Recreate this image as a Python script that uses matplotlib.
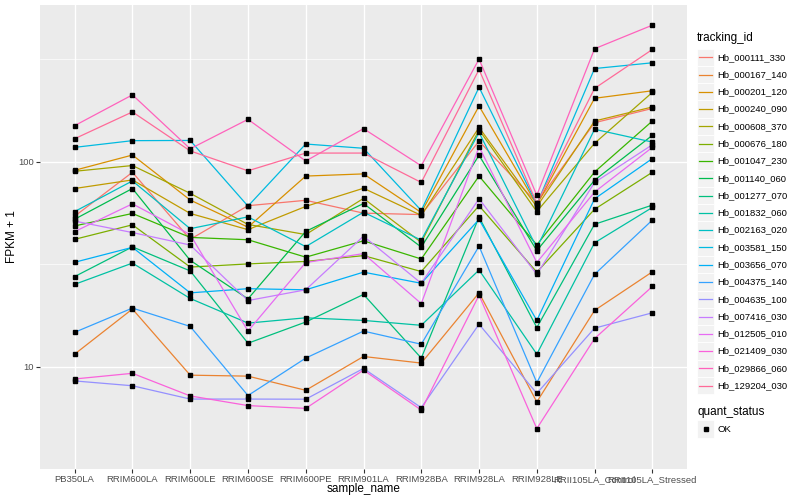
import numpy as np
import matplotlib
matplotlib.use("Agg")
import matplotlib.pyplot as plt
from matplotlib.lines import Line2D
from matplotlib.patches import Rectangle

plt.rcParams['font.family'] = ['Liberation Sans', 'DejaVu Sans']

samples = ['PB350LA', 'RRIM600LA', 'RRIM600LE', 'RRIM600SE', 'RRIM600PE', 'RRIM901LA',
           'RRIM928BA', 'RRIM928LA', 'RRIM928LE', 'RRII105LA_Control', 'RRII105LA_Stressed']

tracking_ids = ['Hb_000111_330', 'Hb_000167_140', 'Hb_000201_120', 'Hb_000240_090', 'Hb_000608_370',
                'Hb_000676_180', 'Hb_001047_230', 'Hb_001140_060', 'Hb_001277_070', 'Hb_001832_060',
                'Hb_002163_020', 'Hb_003581_150', 'Hb_003656_070', 'Hb_004375_140', 'Hb_004635_100',
                'Hb_007416_030', 'Hb_012505_010', 'Hb_021409_030', 'Hb_029866_060', 'Hb_129204_030']

# FPKM + 1, one list per gene, in sample order
hb_000111_330 = [54.2, 88.8, 41.8, 61.0, 64.8, 56.1, 55.2, 126, 63.0, 155, 182]
hb_000167_140 = [11.5, 19.1, 9.08, 8.98, 7.66, 11.2, 10.4, 22.9, 6.72, 18.8, 29.0]
hb_000201_120 = [90.8, 107.8, 65.0, 47.9, 85.1, 87.2, 56.5, 187, 61.6, 204, 222]
hb_000240_090 = [74.0, 81.5, 55.9, 46.6, 60.5, 74.2, 54.7, 147, 60.3, 158, 185]
hb_000608_370 = [89.8, 95.8, 70.1, 49.4, 44.1, 66.2, 40.4, 143, 57.1, 123, 218]
hb_000676_180 = [41.8, 49.2, 30.6, 31.7, 32.6, 34.8, 29.1, 61.0, 28.9, 58.6, 88.8]
hb_001047_230 = [48.6, 55.9, 42.7, 41.6, 34.2, 41.1, 33.5, 85.1, 39.3, 89.1, 158]
hb_001140_060 = [52.4, 74.0, 33.0, 21.4, 45.7, 62.5, 38.3, 107.5, 36.8, 81.2, 134.5]
hb_001277_070 = [27.5, 38.4, 29.3, 13.0, 16.5, 22.5, 11.0, 53.7, 15.5, 49.5, 61.4]
hb_001832_060 = [25.2, 32.0, 21.5, 16.3, 17.3, 16.8, 15.9, 29.6, 11.5, 40.2, 59.8]
hb_002163_020 = [57.1, 80.6, 47.1, 53.8, 38.5, 56.7, 41.4, 139, 38.0, 144, 124.7]
hb_003581_150 = [117.5, 126.7, 127, 60.7, 122, 116.3, 57.8, 231, 62.0, 285, 304]
hb_003656_070 = [32.3, 38.2, 22.9, 24.0, 23.7, 28.9, 25.5, 52.3, 16.8, 65.9, 103.6]
hb_004375_140 = [14.7, 19.3, 15.7, 7.22, 11.0, 14.9, 12.85, 38.7, 8.35, 28.2, 51.9]
hb_004635_100 = [8.51, 8.06, 6.94, 6.94, 6.93, 9.79, 6.30, 16.1, 7.40, 15.4, 18.3]
hb_007416_030 = [51.3, 45.1, 39.2, 21.0, 23.7, 43.3, 25.5, 65.9, 28.2, 79.2, 121]
hb_012505_010 = [45.6, 62.3, 44.1, 14.9, 32.2, 35.6, 20.3, 118.4, 32.2, 71.1, 117.5]
hb_021409_030 = [8.70, 9.27, 7.19, 6.45, 6.25, 9.61, 6.13, 22.3, 4.98, 13.7, 24.6]
hb_029866_060 = [150, 212, 115.6, 161, 100.8, 145, 95.5, 317, 68.6, 356, 464]
hb_129204_030 = [129.5, 175, 112.9, 90.3, 110.2, 110.2, 79.2, 282, 62.6, 228, 353]

series = [hb_000111_330, hb_000167_140, hb_000201_120, hb_000240_090, hb_000608_370,
          hb_000676_180, hb_001047_230, hb_001140_060, hb_001277_070, hb_001832_060,
          hb_002163_020, hb_003581_150, hb_003656_070, hb_004375_140, hb_004635_100,
          hb_007416_030, hb_012505_010, hb_021409_030, hb_029866_060, hb_129204_030]


def hcl_hex(h, c=100.0, l=65.0):
    # polar LUV -> sRGB, same as R's hcl()
    hr = np.deg2rad(h)
    u, v = c * np.cos(hr), c * np.sin(hr)
    xn, yn, zn = 95.047, 100.0, 108.883
    un = 4 * xn / (xn + 15 * yn + 3 * zn)
    vn = 9 * yn / (xn + 15 * yn + 3 * zn)
    Y = yn * ((l + 16) / 116) ** 3
    up = u / (13 * l) + un
    vp = v / (13 * l) + vn
    X = Y * 9 * up / (4 * vp)
    Z = Y * (12 - 3 * up - 20 * vp) / (4 * vp)
    xyz = np.array([X, Y, Z]) / 100
    m = np.array([[3.240479, -1.537150, -0.498535],
                  [-0.969256, 1.875992, 0.041556],
                  [0.055648, -0.204043, 1.057311]])
    rgb = m @ xyz
    rgb = np.where(rgb > 0.00304, 1.055 * np.power(np.clip(rgb, 0, None), 1 / 2.4) - 0.055, 12.92 * rgb)
    return tuple(np.clip(rgb, 0, 1))


n = len(tracking_ids)
colors = [hcl_hex(15 + 360 * i / n) for i in range(n)]

fig = plt.figure(figsize=(8, 5), dpi=100)
ax = fig.add_axes([40 / 800, 31 / 500, 647 / 800, 464 / 500])
ax.set_facecolor('#EBEBEB')
for s in ax.spines.values():
    s.set_visible(False)

x = np.arange(len(samples))
for vals, col in zip(series, colors):
    ax.plot(x, vals, color=col, lw=0.9, zorder=2)
for vals in series:
    ax.plot(x, vals, 's', color='black', ms=2.4, zorder=3)

ax.set_yscale('log')
allv = np.log10(np.concatenate([np.array(v) for v in series]))
lo, hi = allv.min(), allv.max()
pad = (hi - lo) * 0.05
ax.set_ylim(10 ** (lo - pad), 10 ** (hi + pad))
ax.set_xlim(-0.6, len(samples) - 0.4)

ax.set_yticks([10, 100])
ax.set_yticklabels(['10', '100'])
ax.set_yticks([10 ** 0.5, 10 ** 1.5, 10 ** 2.5], minor=True)
ax.yaxis.set_minor_formatter(plt.NullFormatter())
ax.set_xticks(x)
ax.set_xticklabels(samples)
ax.tick_params(axis='both', which='major', length=3, width=0.8, color='#333333',
               labelcolor='#4D4D4D', labelsize=6.8, pad=1.5)
ax.tick_params(axis='y', which='minor', length=0)
ax.grid(True, which='major', color='white', lw=1.0, zorder=0)
ax.grid(True, which='minor', axis='y', color='white', lw=0.5, zorder=0)
ax.set_axisbelow(True)

ax.set_xlabel('sample_name', fontsize=8.5, va='center')
ax.xaxis.set_label_coords(0.5, -(489 - 469) / 464)
ax.set_ylabel('FPKM + 1', fontsize=8.5, va='center')
ax.yaxis.set_label_coords(-(40 - 12) / 647, 0.5)

# legend drawn by hand, ggplot style
W, H = 800.0, 500.0
fig.text(697 / W, 1 - 38 / H, 'tracking_id', fontsize=8.5, va='center', ha='left')
key_h = 17.28
for i, (name, col) in enumerate(zip(tracking_ids, colors)):
    cy = 57.3 + i * key_h
    fig.patches.append(Rectangle((697 / W, 1 - (cy + key_h / 2) / H), 17 / W, key_h / H,
                                 transform=fig.transFigure, facecolor='#F2F2F2',
                                 edgecolor='white', lw=0.6))
    fig.lines.append(Line2D([699 / W, 712 / W], [1 - cy / H, 1 - cy / H], color=col,
                            lw=0.9, transform=fig.transFigure))
    fig.text(717 / W, 1 - cy / H, name, fontsize=6.8, va='center', ha='left')

fig.text(697 / W, 1 - 412 / H, 'quant_status', fontsize=8.5, va='center', ha='left')
fig.patches.append(Rectangle((697 / W, 1 - (429 + key_h / 2) / H), 17 / W, key_h / H,
                             transform=fig.transFigure, facecolor='#F2F2F2',
                             edgecolor='white', lw=0.6))
fig.lines.append(Line2D([705.5 / W], [1 - 429 / H], marker='s', color='black', ms=2.4,
                        transform=fig.transFigure))
fig.text(717 / W, 1 - 429 / H, 'OK', fontsize=6.8, va='center', ha='left')

fig.savefig('out.png', dpi=100, facecolor='white')
